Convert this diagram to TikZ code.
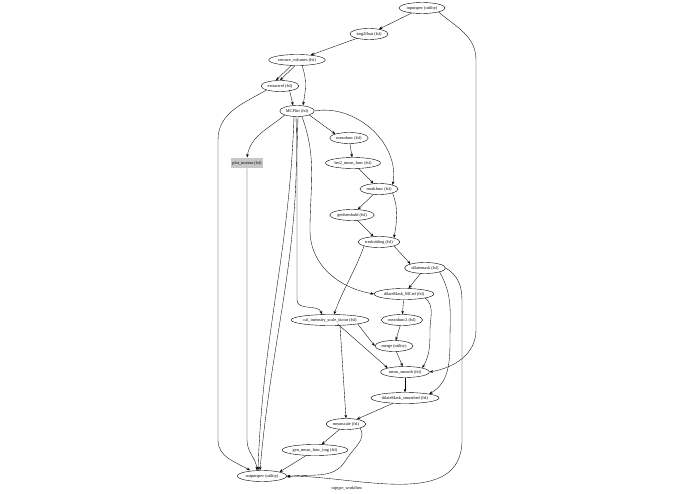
\documentclass[tikz,border=0pt]{standalone}
\usepackage{fontspec}
\setmainfont{Liberation Serif}
\usetikzlibrary{shapes.geometric,arrows.meta}
\begin{document}
\begin{tikzpicture}[x=1pt,y=-1pt,
  nd/.style={ellipse,draw,line width=0.4pt,inner xsep=1pt,inner ysep=0pt,minimum height=11pt,font=\fontsize{4.3}{5}\selectfont},
  bx/.style={rectangle,draw,fill=black!22,double,double distance=0.6pt,line width=0.35pt,minimum height=9pt,inner xsep=2pt,font=\fontsize{4.3}{5}\selectfont},
  ed/.style={-{Stealth[length=3.5pt,width=2.6pt]},line width=0.35pt}]
\useasboundingbox (0,0) rectangle (695,494);
\node[nd] (in) at (422,8) {inputspec (utility)};
\node[nd] (i2f) at (369,34) {img2float (fsl)};
\node[nd] (rv) at (297,60) {remove\_volumes (fsl)};
\node[nd] (ex) at (280,86) {extractref (fsl)};
\node[nd] (mc) at (297,111) {MCFlirt (fsl)};
\node[nd] (mf) at (349,138) {meanfunc (fsl)};
\node[bx] (pm) at (247,163) {plot\_motion (fsl)};
\node[nd] (bet) at (353,163) {bet2\_mean\_func (fsl)};
\node[nd] (mk) at (379,189) {maskfunc (fsl)};
\node[nd] (gt) at (352,215) {getthreshold (fsl)};
\node[nd] (tr) at (379,242) {tresholding (fsl)};
\node[nd] (dm) at (425,268) {dilatemask (fsl)};
\node[nd] (dmc) at (404,294) {dilateMask\_MCed (fsl)};
\node[nd] (cal) at (330,320) {cal\_intensity\_scale\_factor (fsl)};
\node[nd] (mf2) at (402,320) {meanfunc2 (fsl)};
\node[nd] (mg) at (394,346) {merge (utility)};
\node[nd] (ms) at (405,372) {mean\_smooth (fsl)};
\node[nd] (dms) at (405,398) {dilateMask\_smoothed (fsl)};
\node[nd] (sc) at (346,424) {meanscale (fsl)};
\node[nd] (gen) at (315,450) {gen\_mean\_func\_img (fsl)};
\node[nd] (out) at (262,476) {outputspec (utility)};
\node[font=\fontsize{4.3}{5}\selectfont] (cap) at (347,488) {nipype\_workflow};
\draw[ed] (in) -- (i2f);
\draw[ed] (in.south east) to[out=-40,in=90] (476,60) -- (476,330) to[out=-90,in=10] (ms.east);
\draw[ed] (i2f) -- (rv);
\draw[ed] ([xshift=-6]rv.south) -- ([xshift=-4]ex.north);
\draw[ed] ([xshift=-2]rv.south) -- ([xshift=0]ex.north);
\draw[ed] ([xshift=5]rv.south) to[out=-70,in=80] ([xshift=6]mc.north);
\draw[ed] ([xshift=-4]ex.south east) -- ([xshift=-4]mc.north);
\draw[ed] (ex.south west) to[out=-150,in=90] (218,140) -- (218,440) to[out=-90,in=150] ([xshift=-12]out.north);
\draw[ed] (mc.south west) to[out=-140,in=80] (pm.north);
\draw[ed] (mc.south east) -- (mf.north west);
\draw[ed] (mc.east) to[out=10,in=80] (mk.north east);
\draw[ed] ([xshift=-3]mc.south) to[out=-92,in=88] ([xshift=-4]out.north);
\draw[ed] ([xshift=-1]mc.south) to[out=-88,in=85] ([xshift=-2]out.north);
\draw[ed] ([xshift=1]mc.south) -- (297,150) -- (297,300) to[out=-90,in=110] ([xshift=-8]cal.north);
\draw[ed] ([xshift=5]mc.south) to[out=-70,in=90] (310,230) to[out=-90,in=170] (dmc.west);
\draw[ed] (pm.south) -- (247,440) to[out=-90,in=95] ([xshift=-5]out.north);
\draw[ed] (mf) -- (bet);
\draw[ed] (bet) -- (mk);
\draw[ed] (mk) -- (gt);
\draw[ed] (mk.south east) to[out=-70,in=80] (tr.north east);
\draw[ed] (gt) -- (tr);
\draw[ed] (tr.south east) -- (dm.north west);
\draw[ed] (tr.south west) to[out=-110,in=70] ([xshift=4]cal.north);
\draw[ed] (dm) -- (dmc);
\draw[ed] (dm.south east) to[out=-60,in=90] (450,340) to[out=-90,in=30] (dms.north east);
\draw[ed] (dm.east) to[out=-30,in=90] (462,300) -- (462,440) to[out=-90,in=0] (out.east);
\draw[ed] (dmc) -- (mf2);
\draw[ed] (dmc.south east) to[out=-40,in=90] (430,330) to[out=-90,in=60] (ms.north east);
\draw[ed] (mf2) -- (mg);
\draw[ed] (cal.south east) -- (mg.west);
\draw[ed] ([xshift=-20]cal.south east) -- (ms.north west);
\draw[ed] ([xshift=10]cal.south) -- (sc.north);
\draw[ed] (mg) -- (ms);
\draw[ed] (ms) -- (dms);
\draw[ed] (dms) -- (sc);
\draw[ed] (sc) -- (gen);
\draw[ed] (sc.south east) to[out=-60,in=60] (346,460) to[out=-120,in=10] ([yshift=-1]out.east);
\draw[ed] (gen) -- (out.north east);
\end{tikzpicture}
\end{document}
